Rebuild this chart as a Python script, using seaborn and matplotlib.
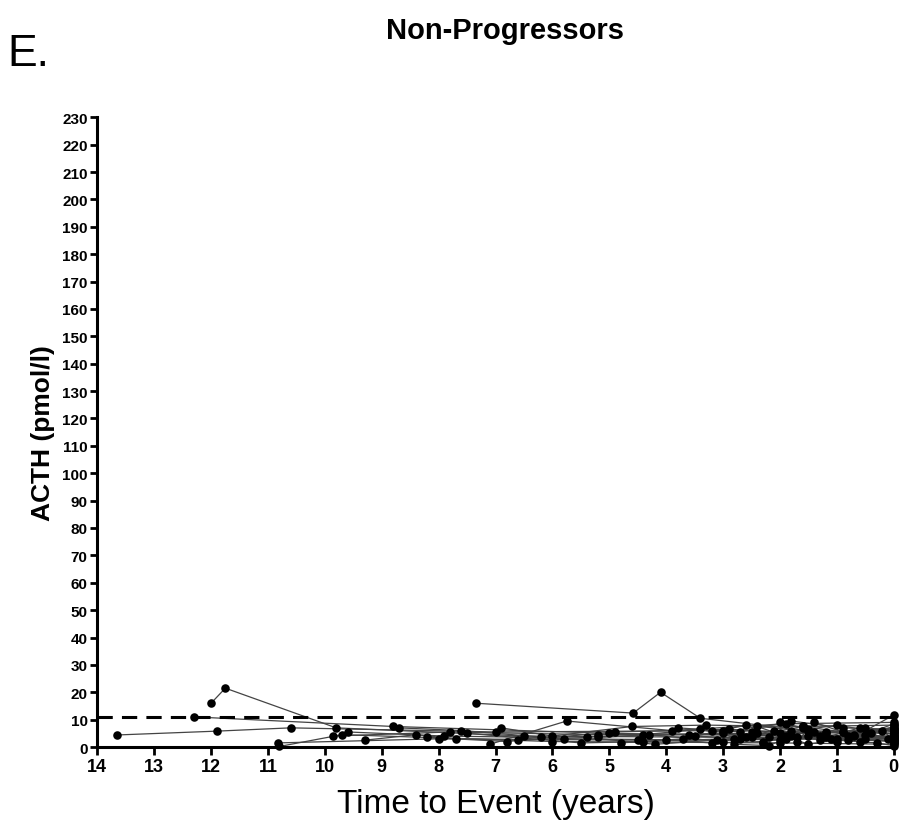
import numpy as np
import pandas as pd
import matplotlib
matplotlib.use("Agg")
import matplotlib.pyplot as plt
import seaborn as sns

# ACTH follow-up of non-progressors: years before last visit and ACTH (pmol/l) per subject
years_to_event = [
    [13.65, 11.9, 10.6, 7.0, 3.0, 0.0],
    [12.0, 11.75, 9.8, 6.5, 2.5, 0.0],
    [12.3, 8.8, 5.0, 1.8, 0.0],
    [10.83, 8.0, 4.5, 1.0, 0.0],
    [10.8, 9.7, 6.0, 2.0, 0.0],
    [9.85, 7.8, 5.2, 2.4, 0.0],
    [9.6, 7.9, 6.2, 3.6, 1.2, 0.0],
    [7.35, 4.58, 4.1, 3.4, 1.5, 0.0],
    [8.7, 7.6, 5.8, 3.1, 0.0],
    [8.2, 6.8, 4.9, 2.9, 0.8, 0.0],
    [7.1, 5.75, 3.9, 1.9, 0.0],
    [7.5, 5.5, 4.4, 2.2, 0.0],
    [6.9, 6.0, 4.6, 3.3, 1.6, 0.0],
    [5.2, 4.3, 3.0, 2.1, 0.5, 0.0],
    [4.8, 3.7, 2.6, 1.4, 0.0],
    [4.0, 3.2, 2.3, 1.7, 0.3, 0.0],
    [3.8, 2.7, 1.8, 0.9, 0.0],
    [3.5, 2.0, 1.3, 0.6, 0.0],
    [2.8, 2.2, 1.5, 1.0, 0.0],
    [2.5, 1.9, 1.1, 0.4, 0.0],
    [2.0, 1.6, 0.8, 0.0],
    [1.9, 1.2, 0.7, 0.2, 0.0],
    [9.3, 8.4, 7.7, 6.6, 5.4, 4.2, 2.8, 0.0],
    [1.7, 1.4, 0.9, 0.1, 0.0],
    [3.0, 2.4, 1.5, 0.5, 0.0],
    [3.2, 2.6, 2.0, 1.3, 0.7, 0.0],
    [2.3, 1.8, 1.2, 0.6, 0.0],
    [4.4, 3.4, 2.7, 1.6, 0.9, 0.0],
    [1.5, 1.0, 0.5, 0.0],
]
acth_pmol = [
    [4.4, 5.8, 7.0, 5.5, 6.0, 5.0],
    [16.0, 21.5, 7.0, 4.0, 3.5, 4.0],
    [11.0, 7.5, 5.0, 4.0, 3.0],
    [1.5, 3.0, 2.5, 3.0, 2.0],
    [0.2, 4.5, 2.0, 1.5, 1.0],
    [4.0, 5.5, 4.5, 5.0, 6.0],
    [5.5, 4.0, 3.5, 4.5, 5.0, 7.0],
    [16.0, 12.4, 20.0, 10.5, 6.0, 5.0],
    [7.0, 6.0, 3.0, 2.5, 3.5],
    [3.5, 2.0, 5.5, 6.5, 4.0, 3.0],
    [1.0, 9.5, 6.0, 8.5, 9.0],
    [5.0, 1.5, 2.0, 3.5, 2.5],
    [7.0, 4.0, 7.5, 8.0, 7.5, 8.0],
    [3.5, 4.5, 2.0, 6.0, 3.0, 2.0],
    [1.5, 3.0, 8.0, 5.5, 6.5],
    [2.5, 1.5, 2.0, 3.5, 1.5, 0.5],
    [7.0, 5.5, 9.5, 7.0, 6.5],
    [4.0, 2.5, 4.0, 2.0, 3.5],
    [1.0, 0.5, 6.5, 8.0, 4.5],
    [5.5, 4.0, 3.0, 5.0, 7.5],
    [9.0, 7.0, 2.5, 11.7],
    [3.0, 5.5, 4.5, 6.0, 2.5],
    [2.5, 4.5, 3.0, 2.5, 3.5, 1.0, 3.0, 4.0],
    [2.0, 9.0, 5.5, 3.0, 6.0],
    [5.0, 7.5, 1.0, 4.5, 8.5],
    [6.0, 3.5, 5.0, 2.5, 4.0, 6.5],
    [1.5, 6.0, 3.5, 7.0, 1.5],
    [4.5, 6.5, 3.0, 7.5, 5.5, 3.5],
    [4.0, 2.0, 7.0, 5.5],
]
upper_reference = 11.0
x_ticks = list(range(14, -1, -1))
y_ticks = list(range(0, 231, 10))

rows = []
for sid, (ts, vs) in enumerate(zip(years_to_event, acth_pmol)):
    for t, v in zip(ts, vs):
        rows.append({"subject": sid, "years": t, "acth": v})
df = pd.DataFrame(rows)

sns.set_style("ticks")
plt.rcParams["font.family"] = ["Liberation Sans", "DejaVu Sans"]
plt.rcParams["text.color"] = "black"
plt.rcParams["axes.labelcolor"] = "black"
plt.rcParams["xtick.color"] = "black"
plt.rcParams["ytick.color"] = "black"

fig = plt.figure(figsize=(9.01, 8.28), dpi=100)
ax = fig.add_axes([0.108, 0.0966, 0.884, 0.7605])

sns.lineplot(data=df, x="years", y="acth", units="subject", estimator=None,
             color="#444444", linewidth=0.9, sort=False, ax=ax, legend=False)
sns.scatterplot(data=df, x="years", y="acth", color="black", s=38,
                edgecolor="black", linewidth=0, ax=ax, legend=False, zorder=3,
                clip_on=False)
ax.axhline(upper_reference, color="black", linestyle=(0, (5, 3)), linewidth=2.2,
           zorder=4, clip_on=False)

ax.set_xlim(14, 0)
ax.set_ylim(0, 230)
ax.set_xticks(x_ticks)
ax.set_xticklabels([str(t) for t in x_ticks], fontsize=13, fontweight="bold")
ax.set_yticks(y_ticks)
ax.set_yticklabels([str(t) for t in y_ticks], fontsize=11, fontweight="bold")
ax.tick_params(axis="both", direction="out", width=2, length=5, color="black", pad=2)
ax.tick_params(axis="x", length=6)

for side in ("top", "right"):
    ax.spines[side].set_visible(False)
for side in ("left", "bottom"):
    ax.spines[side].set_linewidth(2.2)
    ax.spines[side].set_color("black")

ax.set_xlabel("Time to Event (years)", fontsize=24, labelpad=9)
ax.set_ylabel("ACTH (pmol/l)", fontsize=19, fontweight="bold", labelpad=5)

fig.text(0.560, 0.963, "Non-Progressors", ha="center", va="center",
         fontsize=21, fontweight="bold")
fig.text(0.008, 0.934, "E.", ha="left", va="center", fontsize=32)

fig.savefig("out.png", dpi=100)
